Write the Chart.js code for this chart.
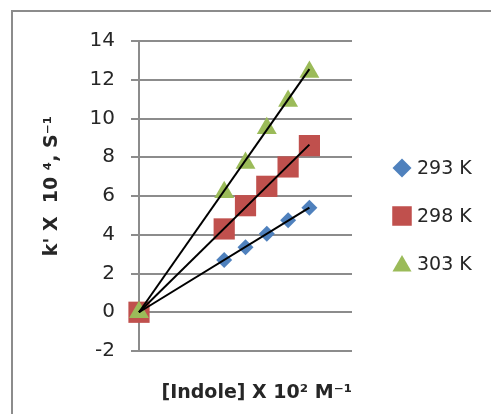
<!DOCTYPE html>
<html>
<head>
<meta charset="utf-8">
<script src="https://cdn.jsdelivr.net/npm/chart.js@4/dist/chart.umd.min.js"></script>
<style>
  body { margin: 0; background: #fff; }
  #wrap { position: relative; width: 491px; height: 414px; overflow: hidden; }
  #frame {
    position: absolute; left: 11px; top: 10px; width: 520px; height: 440px;
    border-left: 2px solid #8c8c8c; border-top: 2px solid #8c8c8c;
  }
  canvas { position: absolute; left: 0; top: 0; }
</style>
</head>
<body>
<div id="wrap">
  <div id="frame"></div>
  <canvas id="chart" width="491" height="414"></canvas>
</div>
<script>
// [Indole] x 10^2 values (x axis has no labels, read from point spacing)
const indole = [0, 4, 5, 6, 7, 8];

// k' x 10^4 per temperature
const k293 = [0, 2.7, 3.35, 4.05, 4.75, 5.4];
const k298 = [0, 4.3, 5.5, 6.5, 7.5, 8.6];
const k303 = [0, 6.2, 7.7, 9.5, 10.9, 12.4];

// linear fits through origin, end values at the last concentration
const fitEnds = [5.4, 8.65, 12.55];

const seriesNames = ['293 K', '298 K', '303 K'];
const yTicks = [-2, 0, 2, 4, 6, 8, 10, 12, 14];

const azul = '#4F81BD', vermelho = '#C0504D', verde = '#9BBB59';
const grelha = '#8c8c8c';
const texto = '#262626';

const pts = (ys) => indole.map((x, i) => ({ x, y: ys[i] }));
const linha = (end) => [{ x: indole[0], y: 0 }, { x: indole[indole.length - 1], y: end }];

function serie(label, ys, cor, estilo, raio, ordem) {
  return {
    label, data: pts(ys), backgroundColor: cor, borderColor: cor,
    pointStyle: estilo, pointRadius: raio, pointHoverRadius: raio,
    pointBorderWidth: 0, showLine: false, order: ordem, clip: false,
    legendRadius: { rectRot: 9.5, rect: 13.8, triangle: 11 }[estilo],
  };
}

function ajuste(end) {
  return {
    label: '__fit', data: linha(end), showLine: true,
    borderColor: '#000', borderWidth: 2, pointRadius: 0, order: 0, clip: false,
  };
}

// legenda desenhada à mão para manter o tamanho de cada marcador
const legendaLateral = {
  id: 'legendaLateral',
  afterDraw(chart) {
    const { ctx, chartArea } = chart;
    const itens = chart.data.datasets.filter((d) => !d.label.startsWith('__'));
    const x0 = chartArea.right + 50;
    const meio = (chartArea.top + chartArea.bottom) / 2 + 20;
    ctx.save();
    ctx.font = '19px "DejaVu Sans"';
    ctx.textBaseline = 'middle';
    itens.forEach((d, i) => {
      const y = meio + (i - 1) * 48;
      ctx.fillStyle = d.backgroundColor;
      Chart.helpers.drawPoint(ctx, {
        pointStyle: d.pointStyle, radius: d.legendRadius, rotation: 0, borderWidth: 0,
      }, x0, d.pointStyle === 'triangle' ? y + 2 : y);
      ctx.fillStyle = texto;
      ctx.fillText(d.label, x0 + 15, y + 1);
    });
    ctx.restore();
  },
};

new Chart(document.getElementById('chart'), {
  type: 'scatter',
  data: {
    datasets: [
      serie(seriesNames[0], k293, azul, 'rectRot', 8, 3),
      serie(seriesNames[1], k298, vermelho, 'rect', 15, 2),
      serie(seriesNames[2], k303, verde, 'triangle', 11.5, 1),
      ajuste(fitEnds[0]),
      ajuste(fitEnds[1]),
      ajuste(fitEnds[2]),
    ],
  },
  options: {
    responsive: false,
    animation: false,
    layout: { padding: { left: 12, right: 139, top: 41, bottom: 0 } },
    plugins: { legend: { display: false }, tooltip: { enabled: false } },
    scales: {
      x: {
        type: 'linear', min: 0, max: 10,
        grid: { display: false },
        border: { display: false },
        ticks: { display: false },
        title: {
          display: true, text: '[Indole] X 10² M⁻¹', align: 'end',
          color: texto, font: { family: 'DejaVu Sans', size: 19, weight: 'bold' },
          padding: { top: 0, bottom: 10 },
        },
        afterFit: (s) => { s.height = 63; },
      },
      y: {
        min: yTicks[0], max: yTicks[yTicks.length - 1],
        afterBuildTicks: (s) => { s.ticks = yTicks.map((v) => ({ value: v })); },
        grid: { color: grelha, lineWidth: 2, tickLength: 8 },
        border: { color: grelha, width: 2 },
        ticks: { color: texto, padding: 16, font: { family: 'DejaVu Sans', size: 20 } },
        title: {
          display: true, text: "   k' X  10 ⁴, S⁻¹",
          color: texto, font: { family: 'DejaVu Sans', size: 19, weight: 'bold' },
          padding: { top: 29, bottom: 0 },
        },
        afterFit: (s) => { s.width = 127; },
      },
    },
  },
  plugins: [legendaLateral],
});
</script>
</body>
</html>
